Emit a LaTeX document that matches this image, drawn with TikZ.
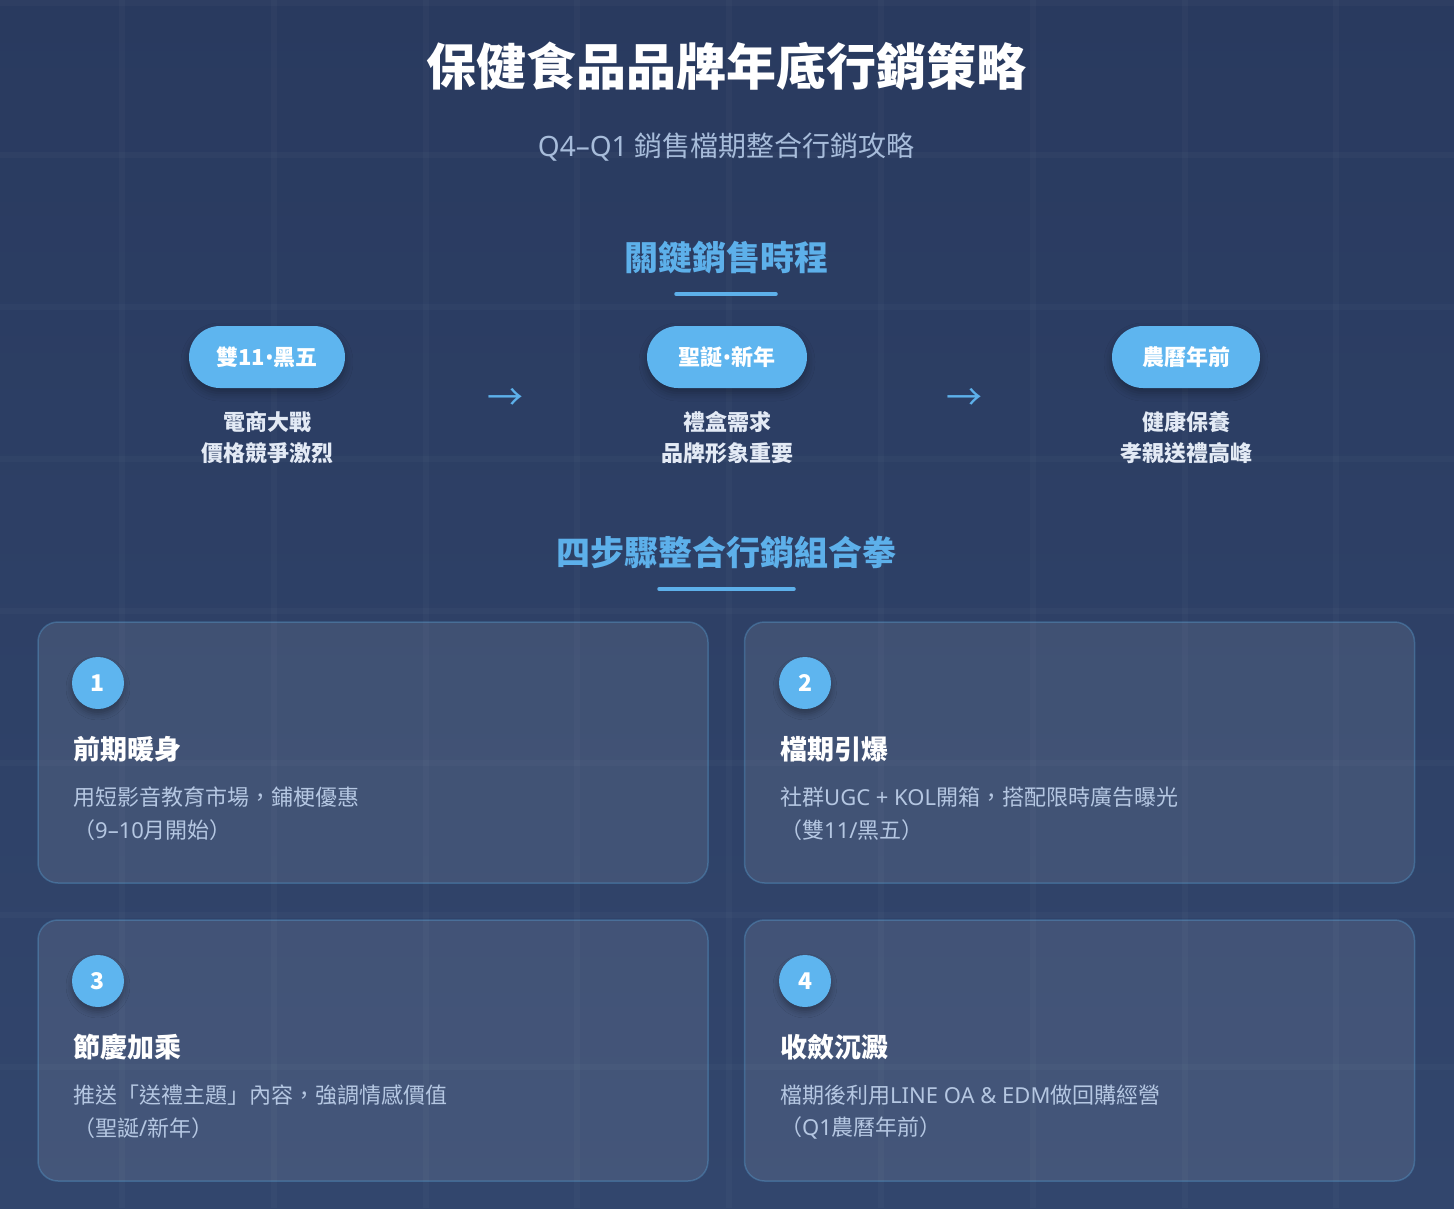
\documentclass[tikz,border=0pt]{standalone}
\usepackage{fontspec}
\setmainfont{Noto Sans CJK TC}
\newfontfamily\latinf{Noto Sans}
\newcommand{\lat}[1]{{\latinf #1}}
\usetikzlibrary{shadows.blur}
\definecolor{bgA}{HTML}{293A5F}
\definecolor{bgB}{HTML}{32466D}
\definecolor{accent}{HTML}{5DB0EA}
\definecolor{pill}{HTML}{5EB5EF}
\definecolor{subtxt}{HTML}{A7BCDA}
\definecolor{desc}{HTML}{B5C7E2}
\definecolor{ltxt}{HTML}{E3EAF5}
\definecolor{cardedge}{HTML}{5DADE2}
\begin{document}
\begin{tikzpicture}[x=1pt,y=-1pt,
  gridln/.style={line width=6pt, white, opacity=0.025},
  maintitle/.style={font=\fontsize{50}{56}\selectfont\bfseries, text=white, inner sep=0pt},
  subtitle/.style={font=\fontsize{28}{32}\selectfont, text=subtxt, inner sep=0pt},
  sechead/.style={font=\fontsize{34}{40}\selectfont\bfseries, text=accent, inner sep=0pt},
  uline/.style={line width=3.5pt, accent, line cap=round},
  pillbox/.style={rounded corners=31pt, fill=pill, text=white,
    font=\fontsize{22}{26}\selectfont\bfseries, minimum height=62pt, inner sep=0pt,
    blur shadow={shadow xshift=0pt, shadow yshift=-5pt, shadow opacity=30, shadow blur radius=8pt}},
  pilldesc/.style={font=\fontsize{22}{31}\selectfont\bfseries, text=ltxt, align=center, inner sep=0pt},
  arrowtxt/.style={font=\fontsize{36}{40}\selectfont, text=accent, inner sep=0pt},
  card/.style={rounded corners=20pt, fill=white, fill opacity=0.09, draw=cardedge, draw opacity=0.32,
    line width=1.5pt, minimum width=670pt, minimum height=261pt, inner sep=0pt},
  numc/.style={circle, fill=pill, text=white, minimum size=52pt, inner sep=0pt,
    font=\fontsize{23}{26}\selectfont\bfseries,
    blur shadow={shadow xshift=0pt, shadow yshift=-5pt, shadow opacity=30, shadow blur radius=6pt}},
  ctitle/.style={font=\fontsize{27}{32}\selectfont\bfseries, text=white, anchor=west, inner sep=0pt},
  cdesc/.style={font=\fontsize{22}{26}\selectfont, text=desc, anchor=west, inner sep=0pt}
]
\useasboundingbox (0,0) rectangle (1454,1208);
% background
\shade[top color=bgA, bottom color=bgB] (0,0) rectangle (1454,1208);
\foreach \i in {0,...,8} \draw[gridln] (122+151.8*\i,0) -- (122+151.8*\i,1208);
\foreach \j in {0,...,7} \draw[gridln] (0,3+152*\j) -- (1454,3+152*\j);

% title
\node[maintitle] (title) at (726,66) {保健食品品牌年底行銷策略};
\node[subtitle] (sub) at (726,147) {\lat{Q4–Q1} 銷售檔期整合行銷攻略};

% section 1
\node[sechead] (sec1) at (726,258) {關鍵銷售時程};
\coordinate (u1a) at (676,294);
\coordinate (u1b) at (776,294);
\draw[uline] (u1a) -- (u1b);

\node[pillbox, minimum width=156pt] (p1) at (267,357) {雙11\lat{•}黑五};
\node[pillbox, minimum width=160pt] (p2) at (727,357) {聖誕\lat{•}新年};
\node[pillbox, minimum width=148pt] (p3) at (1186,357) {農曆年前};

\node[pilldesc] (d1) at (267,438) {電商大戰\\價格競爭激烈};
\node[pilldesc] (d2) at (727,438) {禮盒需求\\品牌形象重要};
\node[pilldesc] (d3) at (1186,438) {健康保養\\孝親送禮高峰};

\node[arrowtxt] (a1) at (505,399) {→};
\node[arrowtxt] (a2) at (964,399) {→};

% section 2
\node[sechead] (sec2) at (726,553) {四步驟整合行銷組合拳};
\coordinate (u2a) at (659,589);
\coordinate (u2b) at (794,589);
\draw[uline] (u2a) -- (u2b);

% cards
\node[card] (c1) at (373,752.5) {};
\node[card] (c2) at (1079.5,752.5) {};
\node[card] (c3) at (373,1050.5) {};
\node[card] (c4) at (1079.5,1050.5) {};

\node[numc] (n1) at (98,683) {1};
\node[numc] (n2) at (805,683) {2};
\node[numc] (n3) at (98,981) {3};
\node[numc] (n4) at (805,981) {4};

\node[ctitle] (t1) at (73,749) {前期暖身};
\node[ctitle] (t2) at (780,749) {檔期引爆};
\node[ctitle] (t3) at (73,1047) {節慶加乘};
\node[ctitle] (t4) at (780,1047) {收斂沉澱};

\node[cdesc] (e1a) at (73,797) {用短影音教育市場，鋪梗優惠};
\node[cdesc] (e1b) at (73,830) {（\lat{9–10}月開始）};
\node[cdesc] (e2a) at (780,797) {社群\lat{UGC + KOL}開箱，搭配限時廣告曝光};
\node[cdesc] (e2b) at (780,830) {（雙\lat{11/}黑五）};
\node[cdesc] (e3a) at (73,1095) {推送「送禮主題」內容，強調情感價值};
\node[cdesc] (e3b) at (73,1128) {（聖誕\lat{/}新年）};
\node[cdesc] (e4a) at (780,1095) {檔期後利用\lat{LINE OA \& EDM}做回購經營};
\node[cdesc] (e4b) at (780,1128) {（\lat{Q1}農曆年前）};
\end{tikzpicture}
\end{document}
